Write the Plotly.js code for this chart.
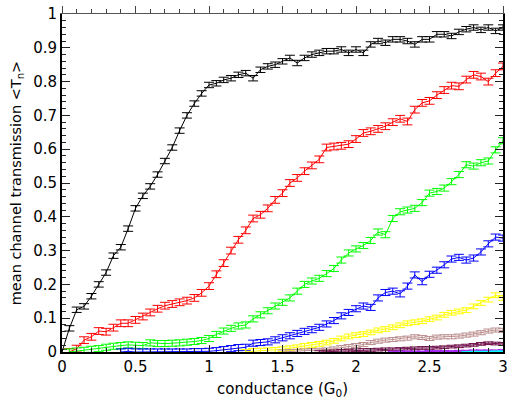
<!DOCTYPE html>
<html>
<head>
<meta charset="utf-8">
<script src="https://cdn.plot.ly/plotly-3.0.1.min.js"></script>
<style>
  html, body { margin: 0; padding: 0; background: #fff; }
  #chart { width: 521px; height: 403px; }
</style>
</head>
<body>
<div id="chart"></div>
<script>
// conductance (G0)
const conductance = [0,0.05,0.1,0.15,0.2,0.25,0.3,0.35,0.4,0.45,0.5,0.55,0.6,0.65,0.7,0.75,0.8,0.85,0.9,0.95,
  1,1.05,1.1,1.15,1.2,1.25,1.3,1.35,1.4,1.45,1.5,1.55,1.6,1.65,1.7,1.75,1.8,1.85,1.9,1.95,
  2,2.05,2.1,2.15,2.2,2.25,2.3,2.35,2.4,2.45,2.5,2.55,2.6,2.65,2.7,2.75,2.8,2.85,2.9,2.95,3];

const chan1 = [0,0.07,0.125,0.135,0.165,0.20,0.235,0.285,0.31,0.365,0.425,0.462,0.49,0.525,0.565,0.605,0.655,0.70,0.735,0.765,
  0.79,0.795,0.805,0.81,0.82,0.825,0.81,0.835,0.845,0.85,0.86,0.87,0.855,0.87,0.88,0.885,0.89,0.89,0.895,0.885,
  0.895,0.885,0.91,0.92,0.915,0.925,0.925,0.92,0.91,0.925,0.925,0.94,0.94,0.935,0.947,0.955,0.96,0.953,0.96,0.95,0.96];

const chan2 = [null,0,0.01,0.035,0.045,0.062,0.06,0.072,0.085,0.085,0.095,0.105,0.117,0.128,0.137,0.142,0.147,0.152,0.16,0.175,
  0.195,0.23,0.263,0.30,0.332,0.36,0.395,0.406,0.425,0.45,0.47,0.50,0.515,0.535,0.552,0.57,0.605,0.608,0.61,0.615,
  0.63,0.648,0.653,0.66,0.668,0.68,0.69,0.682,0.717,0.737,0.743,0.76,0.775,0.788,0.786,0.806,0.82,0.815,0.80,0.825,0.845];

const chan3 = [null,0,0.003,0.005,0.008,0.01,0.014,0.017,0.019,0.021,0.02,0.019,0.027,0.025,0.025,0.026,0.027,0.029,0.031,0.034,
  0.04,0.052,0.062,0.07,0.077,0.08,0.098,0.11,0.122,0.136,0.147,0.16,0.18,0.2,0.21,0.218,0.232,0.247,0.272,0.293,
  0.305,0.315,0.33,0.355,0.347,0.395,0.415,0.42,0.425,0.442,0.47,0.475,0.485,0.504,0.525,0.554,0.55,0.56,0.565,0.598,0.625];

const chan4 = [null,null,null,null,null,null,null,null,0,0.002,0,0,0,0,0,0,0,0,0.001,0.001,
  0.002,0.004,0.007,0.01,0.013,0.014,0.026,0.028,0.03,0.036,0.042,0.048,0.055,0.061,0.066,0.073,0.083,0.093,0.107,0.117,
  0.128,0.136,0.132,0.16,0.176,0.18,0.172,0.195,0.228,0.208,0.23,0.242,0.258,0.275,0.28,0.272,0.278,0.296,0.32,0.34,0.337];

const chan5 = [null,null,null,null,null,null,null,null,null,null,null,null,null,null,null,null,null,null,null,null,
  null,null,null,null,null,0,0.003,0.004,0.005,0.006,0.008,0.011,0.014,0.018,0.021,0.024,0.028,0.033,0.04,0.046,
  0.05,0.053,0.058,0.064,0.068,0.073,0.079,0.085,0.088,0.091,0.097,0.102,0.11,0.116,0.12,0.124,0.135,0.145,0.155,0.168,0.16];

const chan6 = [null,null,null,null,null,null,null,null,null,null,null,null,null,null,null,null,null,null,null,null,
  null,null,null,null,null,null,null,null,null,null,0,0.001,0.002,0.003,0.004,0.005,0.006,0.009,0.013,0.016,
  0.019,0.022,0.028,0.032,0.035,0.037,0.039,0.041,0.045,0.043,0.04,0.044,0.045,0.045,0.047,0.05,0.053,0.057,0.062,0.065,0.064];

const chan7 = [null,null,null,null,null,null,null,null,null,null,null,null,null,null,null,null,null,null,null,null,
  null,null,null,null,null,null,null,null,null,null,null,null,null,null,null,0,0.001,0.002,0.003,0.004,
  0.005,0.006,0.006,0.007,0.008,0.008,0.009,0.01,0.011,0.012,0.012,0.013,0.014,0.016,0.017,0.019,0.021,0.024,0.026,0.025,0.024];

const chan8 = [null,null,null,null,null,null,null,null,null,null,null,null,null,null,null,null,null,null,null,null,
  null,null,null,null,null,null,null,null,null,null,null,null,null,null,null,null,null,null,null,null,
  null,null,null,null,null,0,0.001,0.001,0.001,0.001,0.002,0.002,0.002,0.002,0.003,0.003,0.004,0.004,0.004,0.004,0.005];

const chan9 = [null,null,null,null,null,null,null,null,null,null,null,null,null,null,null,null,null,null,null,null,
  null,null,null,null,null,null,null,null,null,null,null,null,null,null,null,null,null,null,null,null,
  null,null,null,null,null,null,null,null,null,null,null,null,null,null,null,0,0.001,0.001,0.001,0.002,0.002];

// error bar half-heights per channel
const chanErr = [0.008, 0.01, 0.009, 0.009, 0.007, 0.006, 0.004, 0.002, 0.001];
const chanColors = ['#000000', '#ff0000', '#00ff00', '#0000ff', '#ffff00', '#bc8f8f', '#70104a', '#a020f0', '#00ffff'];
const chanNames = ['n=1','n=2','n=3','n=4','n=5','n=6','n=7','n=8','n=9'];
const series = [chan1, chan2, chan3, chan4, chan5, chan6, chan7, chan8, chan9];

const yTickVals = [0,0.1,0.2,0.3,0.4,0.5,0.6,0.7,0.8,0.9,1];
const yTickText = ['0','0.1','0.2','0.3','0.4','0.5','0.6','0.7','0.8','0.9','1'];
const xTickVals = [0,0.5,1,1.5,2,2.5,3];
const xTickText = ['0','0.5','1','1.5','2','2.5','3'];

const traces = series.map((ys, i) => ({
  type: 'scatter',
  mode: 'lines',
  x: conductance,
  y: ys,
  name: chanNames[i],
  line: { color: chanColors[i], width: 1 },
  connectgaps: false,
  cliponaxis: false,
  error_y: {
    type: 'constant',
    value: chanErr[i],
    color: chanColors[i],
    thickness: 1,
    width: 5,
    visible: true
  },
  showlegend: false
}));

// dummy trace to instantiate top axis
traces.push({
  type: 'scatter', mode: 'lines', x: [0, 3], y: [null, null],
  xaxis: 'x2', yaxis: 'y', showlegend: false, hoverinfo: 'skip'
});

const axisColor = '#222';
const font = { family: 'DejaVu Sans, Arial, sans-serif', size: 15, color: '#000' };

const layout = {
  width: 521,
  height: 403,
  autosize: false,
  margin: { l: 62, r: 18, t: 14, b: 51, pad: 0 },
  paper_bgcolor: '#fff',
  plot_bgcolor: '#fff',
  font: font,
  showlegend: false,
  xaxis: {
    range: [0, 3],
    tickvals: xTickVals,
    ticktext: xTickText,
    ticks: 'inside',
    ticklen: 7,
    tickwidth: 1,
    tickcolor: axisColor,
    minor: { dtick: 0.1, tick0: 0, ticks: 'inside', ticklen: 4, tickwidth: 1, tickcolor: axisColor },
    showline: true,
    linecolor: '#000',
    linewidth: 2,
    mirror: false,
    showgrid: false,
    zeroline: false,
    tickfont: font,
    title: { text: 'conductance (G<sub>0</sub>)', font: font, standoff: 8 }
  },
  xaxis2: {
    range: [0, 3],
    overlaying: 'x',
    side: 'top',
    anchor: 'y',
    tickvals: xTickVals,
    ticks: 'outside',
    ticklen: 7,
    tickwidth: 1,
    tickcolor: '#444',
    minor: { dtick: 0.1, tick0: 0, ticks: 'outside', ticklen: 4, tickwidth: 1, tickcolor: '#444' },
    showticklabels: false,
    showline: true,
    linecolor: '#555',
    linewidth: 1.5,
    showgrid: false,
    zeroline: false
  },
  yaxis: {
    range: [0, 1],
    tickvals: yTickVals,
    ticktext: yTickText,
    ticks: 'inside',
    ticklen: 8,
    tickwidth: 1,
    tickcolor: axisColor,
    minor: { dtick: 0.02, tick0: 0, ticks: 'inside', ticklen: 4, tickwidth: 1, tickcolor: axisColor },
    showline: true,
    linecolor: '#000',
    linewidth: 2,
    mirror: 'ticks',
    showgrid: false,
    zeroline: false,
    tickfont: font,
    title: { text: 'mean channel transmission &lt;T<sub>n</sub>&gt;', font: { family: font.family, size: 14.5, color: '#000' }, standoff: 8 }
  }
};

Plotly.newPlot('chart', traces, layout, { staticPlot: true, displayModeBar: false });
</script>
</body>
</html>
